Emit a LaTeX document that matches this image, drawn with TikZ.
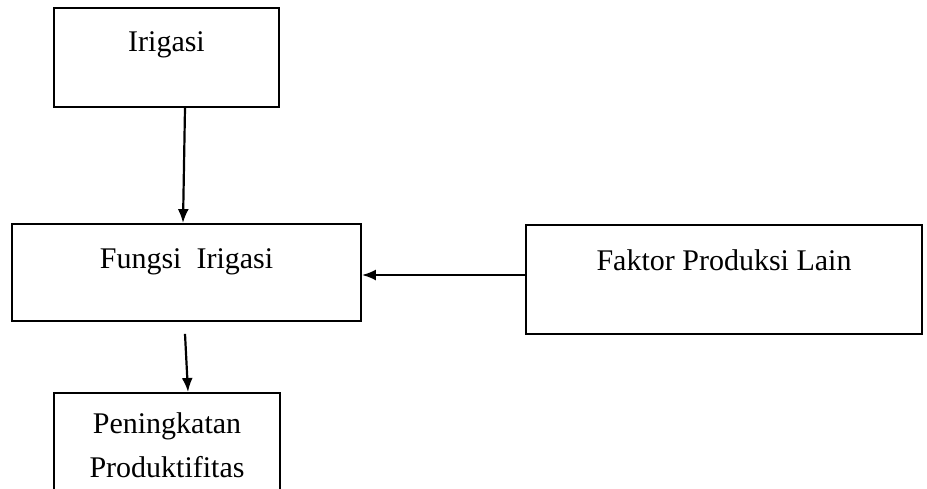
\documentclass[tikz,border=0pt]{standalone}
\usepackage{fontspec}
\setmainfont{Liberation Serif}
\usetikzlibrary{arrows.meta}

\tikzset{
  box/.style={draw, line width=1.8pt, inner sep=0pt, align=center,
    font=\fontsize{30}{44}\selectfont},
  arr/.style={line width=2.2pt, -{Latex[length=14pt,width=11pt]}}
}

\begin{document}
\begin{tikzpicture}[x=1pt,y=-1pt]
	\useasboundingbox (0,0) rectangle (927,488);
	% boxes
	\node[box, minimum width=225pt, text height=43pt, text depth=56pt] (irigasi) at (166.5,57.5) {Irigasi};
	\node[box, minimum width=349pt, text height=44pt, text depth=53pt] (fungsi) at (186.5,272.5) {Fungsi\ \ Irigasi};
	\node[box, minimum width=396pt, text height=45pt, text depth=64pt] (faktor) at (724,279.5) {Faktor Produksi\ Lain};
	\node[box, minimum width=226pt, text height=85pt, text depth=23pt, anchor=north] (peningkatan) at (167,392) {Peningkatan\\Produktifitas};
	% arrows
	\draw[arr] ([xshift=18.5pt]irigasi.south) -- ([xshift=-3.5pt]fungsi.north);
	\draw[arr] ([yshift=4.5pt]faktor.west) -- ([yshift=-2.5pt]fungsi.east);
	\draw[arr] ([xshift=-1.5pt,yshift=-12pt]fungsi.south) -- ([xshift=21pt]peningkatan.north);
\end{tikzpicture}
\end{document}
